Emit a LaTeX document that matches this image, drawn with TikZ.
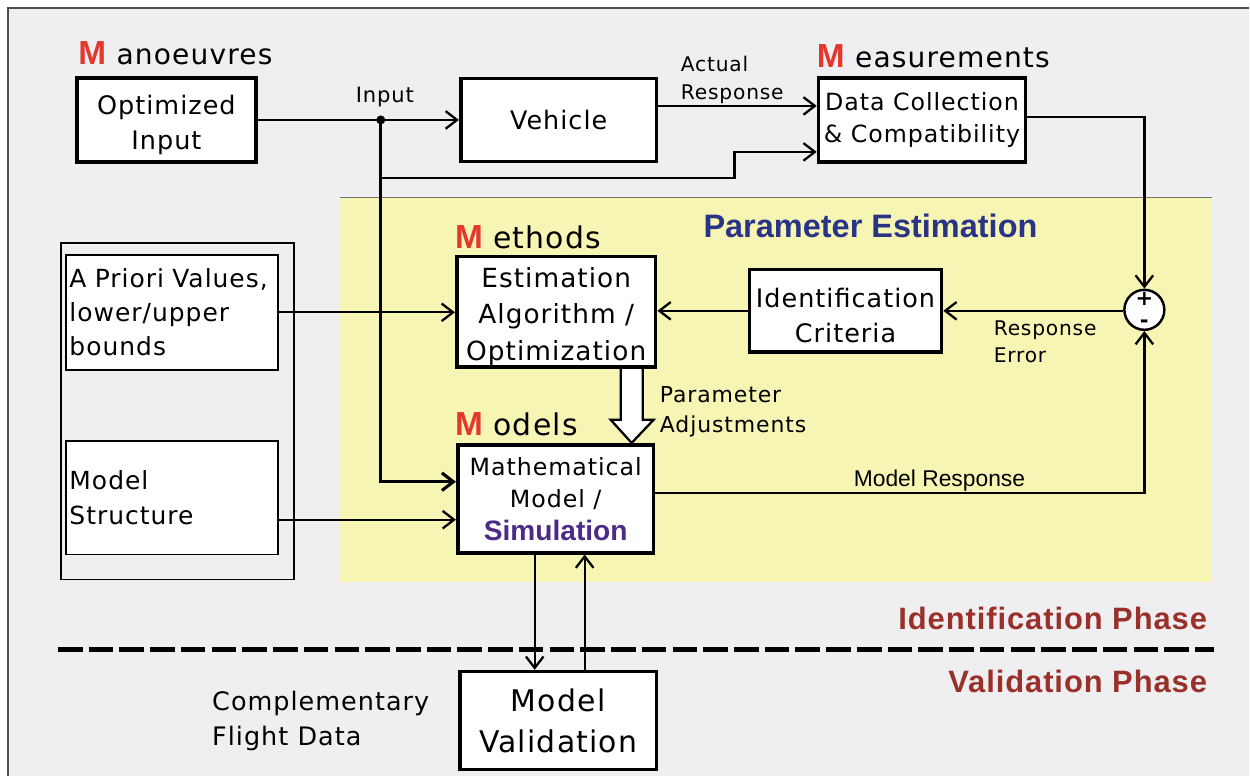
\documentclass[tikz,border=0pt]{standalone}
\usepackage{fontspec}
\setmainfont{DejaVu Sans}[LetterSpace=4]
\newfontfamily\arialfont{Liberation Sans}
\newfontfamily\phasefont{Liberation Sans}[LetterSpace=3]
\usepackage{xcolor}
\usepackage{tikz}
\usetikzlibrary{arrows.meta,positioning}

\definecolor{bggray}{RGB}{239,239,241}
\definecolor{estyellow}{RGB}{247,245,180}
\definecolor{mred}{RGB}{226,56,46}
\definecolor{phasered}{RGB}{153,48,42}
\definecolor{estblue}{RGB}{42,52,135}
\definecolor{simpurple}{RGB}{76,42,135}

\newcommand{\bigM}{{\arialfont\bfseries\fontsize{19}{20}\selectfont\color{mred}M}}
\newcommand{\fsz}[1]{\fontsize{#1}{1.37\dimexpr #1pt\relax}\selectfont}

\tikzset{
  blk/.style={draw, line width=2.1pt, fill=white, align=center, inner sep=1pt, font=\fsz{14.5}},
  srcbox/.style={draw, line width=0.9pt, fill=white, align=left, inner xsep=0.07cm,
    minimum width=4.24cm, text width=4.1cm, font=\fsz{14.2}},
  conn/.style={line width=1.3pt, ->},
  heading/.style={anchor=base west, inner sep=0pt},
  lbl/.style={anchor=west, inner sep=0pt, align=left},
  phase/.style={anchor=base east, inner sep=0pt, text=phasered,
    font=\phasefont\bfseries\fontsize{17.6}{20}\selectfont},
}

\begin{document}
\begin{tikzpicture}[x=0.02cm,y=-0.02cm,>={Straight Barb[length=6.5pt,width=10pt]}]
% background
\fill[white] (0,0) rectangle (1250,776);
\fill[bggray] (8,8) rectangle (1250,776);
\draw[line width=0.8pt, black!70] (8,776) -- (8,8) -- (1250,8);
\useasboundingbox (0,0) rectangle (1250,776);
% parameter estimation area
\fill[estyellow] (340,198) rectangle (1213,582);
\draw[line width=0.6pt, black!55] (340,198) -- (1213,198);
\node[font=\arialfont\bfseries\fontsize{18.5}{20}\selectfont, text=estblue] (pelbl) at (871,226) {Parameter Estimation};

% headings
\node[heading, font=\fsz{16}] (manlbl) at (78,65) {\bigM\hspace{6pt}anoeuvres};
\node[heading, font=\fsz{16}] (meslbl) at (817,68) {\bigM\hspace{6pt}easurements};
\node[heading, font=\fsz{17}] (methlbl) at (455,249) {\bigM\hspace{6pt}ethods};
\node[heading, font=\fsz{17}] (modlbl) at (455,436) {\bigM\hspace{6pt}odels};

% blocks
\node[blk, text height=36.5pt, minimum width=3.58cm, minimum height=1.68cm] (optin) at (166.5,120) {Optimized\\Input};
\node[blk, minimum width=3.92cm, minimum height=1.66cm] (vehicle) at (559,120) {Vehicle};
\node[blk, minimum width=4.14cm, minimum height=1.68cm, font=\fsz{13.5}] (datacol) at (922.5,120) {Data Collection\\\& Compatibility};
\node[blk, text height=58pt, minimum width=3.98cm, minimum height=2.2cm, font=\fsz{15}] (estim) at (556.5,312) {Estimation\\Algorithm /\\Optimization};
\node[blk, text height=36.5pt, minimum width=3.84cm, minimum height=1.66cm] (ident) at (846,311) {Identification\\Criteria};
\node[blk, minimum width=3.92cm, minimum height=2.16cm, font=\fsz{13.5}] (mathm) at (556,499)
  {Mathematical\\Model /\\{\arialfont\bfseries\fontsize{16}{20}\selectfont\color{simpurple}Simulation}};
\node[blk, minimum width=3.94cm, minimum height=1.96cm, font=\fsz{17}] (valid) at (558.5,721) {Model\\Validation};

% a priori information
\node[draw, line width=0.9pt, minimum width=4.66cm, minimum height=6.74cm] (srcgrp) at (177.5,411.5) {};
\node[srcbox, minimum height=2.3cm] (apriori) at (172,312.5) {A Priori Values,\\lower/upper\\bounds};
\node[srcbox, minimum height=2.28cm] (modstr) at (172,498) {Model\\Structure};

% summing junction
\node[draw, circle, line width=1.4pt, fill=white, minimum size=0.8cm, inner sep=0pt,
  align=center, font=\bfseries\fontsize{12}{12.5}\selectfont] (sum) at (1145,310) {+\\-};

% input branch point
\coordinate (inp) at (381,120);
\fill (inp) circle[radius=4.5];
\node[anchor=base, inner sep=0pt, font=\fsz{12}] (inplbl) at (385,103) {Input};

% connectors
\draw[conn] (optin.east) -- (inp) -- (vehicle.west);
\draw[conn] (vehicle.east |- 0,106) -- (datacol.west |- 0,106);
\draw[conn] (inp) |- (735,178) |- (datacol.west |- 0,152);
\draw[conn, line width=1.8pt] (inp) |- (mathm.west |- 0,482);
\draw[conn] (datacol.east |- 0,117) -| (sum.north);
\draw[conn] (sum.west |- 0,311) -- (ident.east);
\draw[conn] (ident.west) -- (estim.east |- ident.west);
\draw[conn] (apriori.east) -- (estim.west |- apriori.east);
\draw[conn] (modstr.east |- 0,520) -- (mathm.west |- 0,520);
\draw[conn] (mathm.east |- 0,493) -| (sum.south);
\draw[conn] (mathm.south -| 535,0) -- (valid.north -| 535,0);
\draw[conn] (valid.north -| 585,0) -- (mathm.south -| 585,0);
% parameter adjustment arrow
\draw[line width=1.3pt, fill=white, line join=miter] (estim.south -| 621,0) -- (621,420) -- (611,420)
  -- (mathm.north -| 632,0) -- (654,420) -- (643,420) -- (estim.south -| 643,0);

% connector labels
\node[lbl, font=\fsz{11.5}] (actlbl) at (681,80) {Actual\\Response};
\node[lbl, font=\fsz{12.5}] (adjlbl) at (660,412) {Parameter\\Adjustments};
\node[lbl, font=\fsz{11.5}] (errlbl) at (994,342) {Response\\Error};
\node[anchor=base, inner sep=0pt, font=\arialfont\fontsize{13}{15}\selectfont] (mrlbl) at (940,487) {Model Response};
\node[lbl, font=\fsz{14.5}] (cfdlbl) at (212,721) {Complementary\\Flight Data};

% phase separation
\draw[line width=2.8pt, dash pattern=on 14pt off 3.5pt] (58,650) -- (1215,650);
\node[phase] (idphase) at (1208,630) {Identification Phase};
\node[phase] (valphase) at (1208,693) {Validation Phase};
\end{tikzpicture}
\end{document}
